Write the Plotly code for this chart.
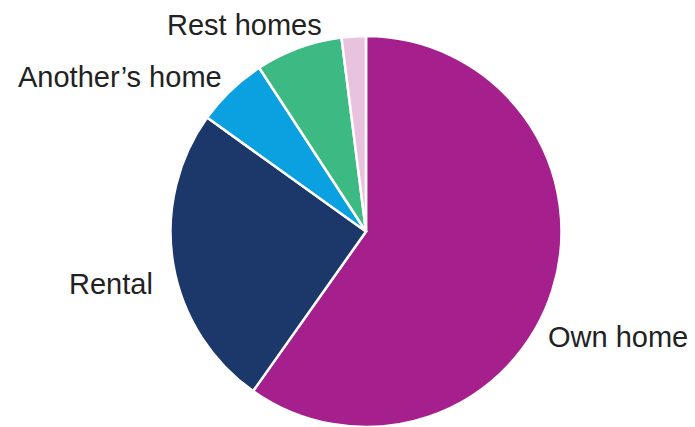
import plotly.graph_objects as go

labels = ["Own home", "Rental", "Another's home", "Rest homes", "Other"]
values = [59.8, 25.1, 5.9, 7.2, 2.0]
colors = ["#a6208d", "#1c376a", "#0ba0e0", "#3dba84", "#e9c3dd"]

# label annotations (text shown outside the pie, no leader lines)
label_text = ["Own home", "Rental", "Another\u2019s home", "Rest homes"]
label_x = [618, 111, 120, 244]
label_y = [337, 284, 77, 25]

W, H = 695, 427

fig = go.Figure(go.Pie(
    labels=labels,
    values=values,
    sort=False,
    direction="clockwise",
    rotation=0,
    textinfo="none",
    hoverinfo="label+percent",
    marker=dict(colors=colors, line=dict(color="white", width=2.5)),
    domain=dict(x=[170 / W, 562 / W], y=[0, (H - 36) / H]),
    showlegend=False,
))

for t, x, y in zip(label_text, label_x, label_y):
    fig.add_annotation(
        text=t, x=x / W, y=1 - y / H, xref="paper", yref="paper",
        xanchor="center", yanchor="middle", showarrow=False,
        font=dict(family="Liberation Sans, Arial, sans-serif", size=29, color="#222222"),
    )

fig.update_layout(
    width=W, height=H,
    margin=dict(l=0, r=0, t=0, b=0),
    paper_bgcolor="white", plot_bgcolor="white",
)

fig.write_html("out.html")
